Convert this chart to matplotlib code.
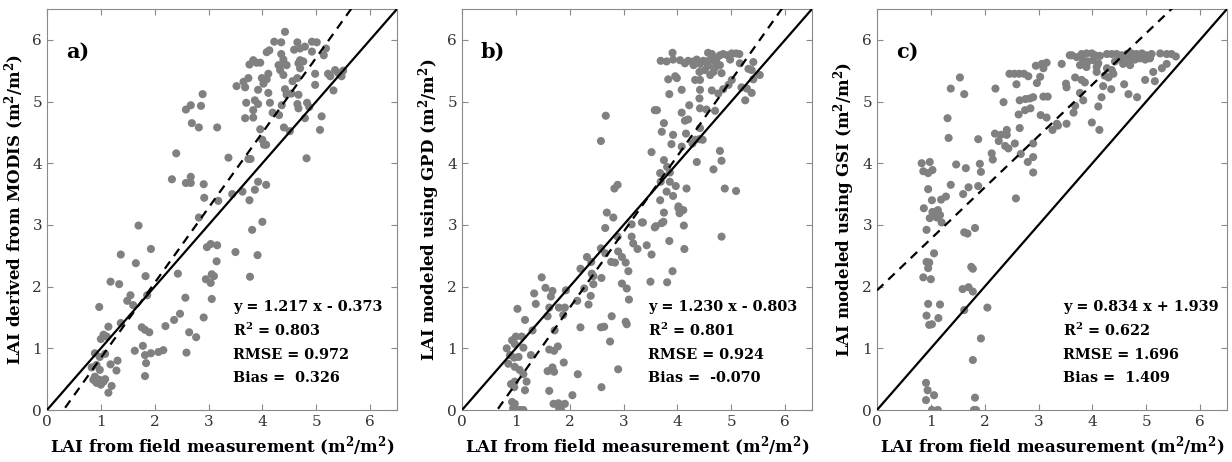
import numpy as np
import matplotlib
matplotlib.use('Agg')
import matplotlib.pyplot as plt

plt.rcParams['font.family'] = 'DejaVu Serif'
plt.rcParams['mathtext.fontset'] = 'dejavuserif'
plt.rcParams['mathtext.default'] = 'bf'

# ---- data (field LAI vs modelled LAI) ----
a_pts = [
    (3.52, 5.25), (2.89, 5.12), (2.58, 4.87), (2.67, 4.94), (2.86, 4.93), (2.69, 4.65), (2.82, 4.58),
    (3.16, 4.58), (2.40, 4.16), (3.37, 4.09), (2.32, 3.74), (2.58, 3.68), (2.67, 3.78), (2.67, 3.68),
    (2.91, 3.66), (2.92, 3.44), (3.18, 3.39), (3.44, 3.50), (2.82, 3.12), (1.70, 2.99), (3.50, 2.56),
    (2.97, 2.64), (3.04, 2.69), (3.16, 2.67), (1.37, 2.52), (1.93, 2.61), (1.65, 2.38), (3.15, 2.41),
    (1.18, 2.08), (1.34, 2.04), (1.83, 2.17), (2.43, 2.21), (2.95, 2.12), (3.04, 2.06), (3.06, 2.20),
    (3.10, 2.17), (3.06, 1.80), (1.55, 1.86), (1.49, 1.77), (1.60, 1.70), (2.57, 1.82), (1.86, 1.86),
    (0.97, 1.67), (2.91, 1.50), (2.47, 1.56), (2.36, 1.46), (2.20, 1.36), (1.37, 1.41), (1.14, 1.35),
    (1.76, 1.34), (1.82, 1.30), (1.90, 1.26), (2.64, 1.26), (2.77, 1.18), (1.05, 1.22), (1.00, 1.15),
    (1.11, 1.19), (1.78, 1.04), (1.63, 0.96), (1.82, 0.89), (1.93, 0.92), (2.07, 0.94), (2.16, 0.97),
    (2.59, 0.93), (0.89, 0.92), (0.98, 0.86), (1.08, 0.91), (1.31, 0.80), (1.18, 0.74), (1.84, 0.76),
    (1.29, 0.64), (0.83, 0.69), (0.92, 0.73), (0.98, 0.65), (1.82, 0.55), (0.89, 0.54), (0.97, 0.49),
    (1.05, 0.46), (0.92, 0.44), (1.00, 0.41), (1.08, 0.50), (0.86, 0.49), (1.20, 0.39), (1.14, 0.28),
    (4.42, 6.13), (4.22, 5.97), (4.35, 5.96), (4.65, 5.96), (4.79, 5.89), (4.92, 5.97), (5.01, 5.96),
    (5.18, 5.86), (4.13, 5.83), (4.08, 5.80), (4.59, 5.84), (4.70, 5.86), (4.92, 5.81), (5.14, 5.75),
    (4.35, 5.77), (4.39, 5.68), (3.83, 5.67), (3.76, 5.60), (3.89, 5.63), (3.96, 5.63), (4.70, 5.67),
    (4.67, 5.62), (4.76, 5.65), (4.30, 5.59), (4.39, 5.62), (4.45, 5.59), (4.33, 5.51), (4.39, 5.43),
    (4.70, 5.54), (4.11, 5.45), (4.08, 5.36), (3.99, 5.38), (4.02, 5.29), (3.74, 5.38), (3.65, 5.32),
    (3.68, 5.23), (4.98, 5.45), (5.22, 5.45), (5.35, 5.51), (5.41, 5.46), (5.50, 5.50), (5.47, 5.41),
    (5.26, 5.41), (4.56, 5.33), (4.65, 5.38), (3.92, 5.19), (4.11, 5.14), (4.42, 5.20), (4.45, 5.11),
    (4.54, 5.13), (4.67, 5.11), (4.98, 5.27), (5.32, 5.18), (3.86, 5.02), (3.70, 4.98), (3.92, 4.96),
    (4.14, 4.98), (4.36, 4.94), (4.65, 4.96), (4.67, 4.89), (4.83, 4.98), (4.87, 4.91), (3.83, 4.86),
    (3.83, 4.74), (3.68, 4.73), (4.19, 4.82), (4.31, 4.78), (5.10, 4.76), (4.79, 4.73), (4.40, 4.58),
    (4.51, 4.52), (3.96, 4.55), (5.07, 4.54), (4.00, 4.38), (4.03, 4.30), (4.07, 4.30), (3.74, 4.07),
    (3.78, 4.07), (4.82, 4.08), (3.92, 3.70), (4.07, 3.65), (3.86, 3.57), (3.63, 3.54), (3.76, 3.40),
    (4.00, 3.05), (3.81, 2.92), (3.91, 2.51), (3.77, 2.16),
]

b_pts = [
    (2.67, 4.77), (2.58, 4.36), (3.52, 4.18), (3.58, 4.86), (2.83, 3.59), (2.89, 3.65), (2.69, 3.20),
    (2.81, 3.12), (3.15, 3.01), (3.36, 3.04), (3.58, 2.96), (2.66, 2.95), (2.89, 2.81), (3.15, 2.81),
    (3.18, 2.70), (3.26, 2.61), (3.43, 2.67), (2.58, 2.62), (2.66, 2.54), (2.90, 2.57), (2.97, 2.48),
    (3.04, 2.39), (3.09, 2.25), (3.52, 2.52), (2.77, 2.40), (2.84, 2.39), (2.32, 2.48), (2.40, 2.40),
    (2.20, 2.29), (2.41, 2.21), (2.44, 2.17), (2.59, 2.14), (2.44, 2.04), (2.97, 2.05), (3.06, 1.97),
    (3.10, 1.79), (3.50, 2.08), (1.48, 2.15), (1.34, 1.89), (1.37, 1.72), (1.55, 1.98), (1.68, 1.93),
    (1.65, 1.84), (1.93, 1.94), (2.27, 1.97), (2.14, 1.77), (2.39, 1.85), (2.35, 1.71), (1.03, 1.64),
    (1.17, 1.46), (1.62, 1.66), (1.80, 1.66), (1.91, 1.66), (1.88, 1.54), (1.59, 1.52), (1.31, 1.29),
    (1.72, 1.29), (2.20, 1.34), (2.78, 1.52), (2.58, 1.34), (2.64, 1.35), (3.04, 1.43), (3.06, 1.39),
    (0.83, 1.00), (0.93, 1.13), (1.00, 1.19), (1.11, 1.19), (0.98, 1.07), (1.14, 1.01), (0.89, 0.89),
    (0.97, 0.85), (1.05, 0.86), (1.28, 0.89), (1.78, 1.03), (1.71, 0.96), (1.62, 0.98), (1.89, 0.77),
    (2.75, 1.11), (0.86, 0.75), (0.98, 0.70), (1.07, 0.65), (1.59, 0.63), (1.71, 0.62), (1.68, 0.69),
    (2.15, 0.58), (2.90, 0.66), (1.14, 0.58), (1.20, 0.46), (1.17, 0.32), (0.91, 0.42), (0.98, 0.46),
    (0.97, 0.37), (1.62, 0.31), (2.59, 0.37), (2.05, 0.24), (0.93, 0.13), (0.98, 0.10), (0.95, 0.03),
    (1.08, 0.00), (1.14, 0.00), (1.02, 0.00), (1.70, 0.10), (1.79, 0.11), (1.91, 0.10), (1.84, 0.00),
    (1.80, 0.04), (3.91, 5.79), (3.69, 5.66), (3.80, 5.65), (3.92, 5.68), (4.05, 5.67), (4.14, 5.62),
    (4.20, 5.66), (4.30, 5.65), (4.36, 5.68), (4.42, 5.61), (4.48, 5.66), (4.54, 5.65), (4.57, 5.79),
    (4.64, 5.77), (4.62, 5.68), (4.70, 5.65), (4.73, 5.70), (4.79, 5.75), (4.85, 5.77), (4.93, 5.75),
    (5.01, 5.78), (5.09, 5.78), (5.15, 5.77), (4.98, 5.68), (4.30, 5.59), (4.57, 5.58), (4.70, 5.55),
    (4.79, 5.59), (5.16, 5.62), (5.41, 5.64), (4.82, 5.46), (4.67, 5.48), (4.61, 5.43), (4.51, 5.51),
    (4.41, 5.48), (5.32, 5.53), (5.38, 5.51), (5.53, 5.43), (5.41, 5.36), (3.83, 5.36), (3.96, 5.41),
    (3.99, 5.38), (4.33, 5.35), (4.42, 5.35), (5.01, 5.35), (4.95, 5.27), (4.85, 5.20), (4.64, 5.18),
    (5.19, 5.23), (5.29, 5.21), (5.38, 5.14), (5.26, 5.02), (4.08, 5.19), (4.42, 5.19), (3.85, 5.12),
    (4.41, 5.05), (4.76, 5.13), (3.62, 4.86), (4.22, 4.94), (4.08, 4.82), (4.42, 4.89), (4.54, 4.87),
    (4.70, 4.85), (4.14, 4.69), (4.20, 4.71), (3.75, 4.65), (3.71, 4.51), (3.92, 4.46), (4.16, 4.48),
    (4.42, 4.57), (4.33, 4.38), (4.41, 4.39), (4.47, 4.38), (4.28, 4.32), (4.08, 4.27), (3.89, 4.31),
    (4.79, 4.20), (4.82, 4.04), (4.67, 3.90), (4.36, 4.02), (3.75, 4.05), (3.81, 3.94), (3.68, 3.84),
    (3.86, 3.85), (3.69, 3.70), (3.86, 3.70), (3.97, 3.63), (4.17, 3.59), (4.88, 3.59), (5.09, 3.55),
    (3.80, 3.54), (3.92, 3.47), (3.68, 3.40), (3.75, 3.20), (4.02, 3.27), (4.11, 3.24), (4.04, 3.19),
    (3.34, 3.04), (3.60, 2.98), (3.74, 3.05), (4.12, 2.99), (3.71, 3.03), (4.02, 3.30), (4.82, 2.81),
    (3.85, 2.74), (4.13, 2.61), (3.91, 2.25), (3.81, 2.07),
]

c_pts = [
    (3.58, 5.75), (2.95, 5.58), (3.06, 5.61), (3.15, 5.63), (3.09, 5.54), (3.43, 5.61), (3.03, 5.40),
    (2.97, 5.30), (2.46, 5.45), (2.55, 5.45), (2.64, 5.45), (2.73, 5.45), (2.81, 5.41), (2.59, 5.28),
    (1.54, 5.39), (1.37, 5.21), (1.62, 5.12), (2.20, 5.21), (2.35, 4.99), (2.65, 5.02), (2.76, 5.04),
    (2.84, 5.05), (2.90, 5.07), (3.09, 5.08), (3.17, 5.08), (3.52, 5.23), (2.63, 4.79), (2.75, 4.86),
    (2.85, 4.89), (3.04, 4.78), (3.15, 4.74), (3.36, 4.61), (3.52, 4.64), (3.26, 4.54), (1.31, 4.73),
    (1.33, 4.41), (1.88, 4.39), (2.65, 4.57), (2.19, 4.48), (2.30, 4.46), (2.41, 4.54), (2.41, 4.46),
    (2.26, 4.36), (2.38, 4.28), (2.44, 4.24), (2.56, 4.32), (2.90, 4.32), (2.13, 4.16), (2.15, 4.06),
    (2.67, 4.15), (2.80, 4.02), (2.90, 4.10), (2.90, 3.85), (0.83, 4.00), (0.98, 4.02), (0.86, 3.87),
    (0.95, 3.84), (1.03, 3.89), (1.47, 3.98), (1.65, 3.92), (1.91, 3.99), (1.93, 3.86), (0.95, 3.58),
    (1.37, 3.65), (1.70, 3.61), (1.88, 3.63), (1.60, 3.50), (1.02, 3.40), (1.19, 3.41), (1.28, 3.46),
    (0.87, 3.27), (1.03, 3.21), (1.13, 3.24), (0.98, 3.11), (1.11, 3.12), (1.20, 3.04), (2.58, 3.43),
    (0.92, 2.92), (1.82, 2.95), (1.05, 3.19), (1.17, 3.16), (1.62, 2.88), (1.68, 2.86), (1.06, 2.54),
    (0.92, 2.40), (0.97, 2.39), (0.95, 2.30), (0.86, 2.15), (1.00, 2.12), (1.75, 2.32), (1.78, 2.29),
    (1.59, 1.96), (1.70, 1.99), (1.78, 1.92), (0.95, 1.72), (1.17, 1.71), (1.62, 1.62), (2.05, 1.66),
    (0.92, 1.53), (1.14, 1.49), (1.02, 1.39), (0.97, 1.38), (1.93, 1.16), (1.78, 0.81), (0.91, 0.44),
    (0.94, 0.32), (1.06, 0.24), (0.91, 0.16), (1.82, 0.20), (1.02, 0.00), (1.13, 0.00), (1.80, 0.00),
    (1.84, 0.00), (3.62, 5.75), (3.71, 5.72), (3.80, 5.77), (3.89, 5.78), (3.99, 5.78), (4.05, 5.75),
    (4.14, 5.74), (3.83, 5.67), (3.92, 5.65), (4.02, 5.67), (4.11, 5.62), (3.77, 5.59), (3.89, 5.56),
    (4.08, 5.56), (4.27, 5.77), (4.36, 5.77), (4.45, 5.77), (4.54, 5.75), (4.64, 5.77), (4.73, 5.78),
    (4.82, 5.77), (4.92, 5.78), (5.01, 5.75), (5.10, 5.77), (5.26, 5.78), (5.38, 5.77), (5.47, 5.77),
    (5.55, 5.73), (4.51, 5.70), (4.61, 5.68), (4.70, 5.67), (4.79, 5.68), (4.88, 5.70), (4.98, 5.68),
    (5.07, 5.70), (4.42, 5.65), (4.57, 5.61), (4.70, 5.59), (5.38, 5.61), (5.29, 5.54), (5.13, 5.48),
    (4.27, 5.54), (4.36, 5.51), (4.08, 5.48), (4.39, 5.45), (4.23, 5.42), (4.30, 5.39), (3.68, 5.39),
    (3.80, 5.35), (4.98, 5.35), (5.16, 5.33), (3.51, 5.29), (3.86, 5.31), (4.20, 5.25), (4.35, 5.20),
    (4.59, 5.28), (4.67, 5.12), (4.83, 5.07), (3.77, 5.14), (3.83, 5.02), (3.68, 4.93), (3.65, 4.82),
    (4.17, 5.07), (4.11, 4.92), (3.34, 4.64), (3.99, 4.66), (4.13, 4.54),
]

panel_tags = ['a)', 'b)', 'c)']
y_labels = ['LAI derived from MODIS (m$^2$/m$^2$)',
            'LAI modeled using GPD (m$^2$/m$^2$)',
            'LAI modeled using GSI (m$^2$/m$^2$)']
slopes = [1.217, 1.230, 0.834]
intercepts = [-0.373, -0.803, 1.939]
r2 = [0.803, 0.801, 0.622]
rmse = [0.972, 0.924, 1.696]
bias = [0.326, -0.070, 1.409]

fig = plt.figure(figsize=(12.32, 4.62), dpi=100)
lefts = [47 / 1232, 462 / 1232, 877 / 1232]
axw, axh = 350 / 1232, 401 / 462
axb = 52 / 462

grey = '#808080'
for i, pts in enumerate([a_pts, b_pts, c_pts]):
    ax = fig.add_axes([lefts[i], axb, axw, axh])
    pts = np.array(pts)
    ax.scatter(pts[:, 0], pts[:, 1], s=34, color=grey, edgecolors='none', zorder=2)

    xx = np.array([0, 6.5])
    ax.plot(xx, xx, color='black', lw=1.6, zorder=3)
    ax.plot(xx, slopes[i] * xx + intercepts[i], color='black', lw=1.6, ls=(0, (4, 3)), zorder=3)

    ax.set_xlim(0, 6.5)
    ax.set_ylim(0, 6.5)
    ax.set_xticks(range(7))
    ax.set_yticks(range(7))
    ax.tick_params(direction='in', top=True, right=True, length=4, width=0.8,
                   color='#8a8a8a', labelcolor='#333333', labelsize=11)
    for sp in ax.spines.values():
        sp.set_color('#8a8a8a')
        sp.set_linewidth(0.8)

    ax.set_xlabel('LAI from field measurement (m$^2$/m$^2$)', fontsize=12, fontweight='bold')
    ax.set_ylabel(y_labels[i], fontsize=12, fontweight='bold')

    ax.text(0.35, 5.81, panel_tags[i], fontsize=15, fontweight='bold', va='center', ha='left')

    sign = '-' if intercepts[i] < 0 else '+'
    lines = ['y = %.3f x %s %.3f' % (slopes[i], sign, abs(intercepts[i])),
             'R$^2$ = %.3f' % r2[i],
             'RMSE = %.3f' % rmse[i],
             'Bias =  %.3f' % bias[i]]
    for k, s in enumerate(lines):
        ax.text(3.45, [1.67, 1.29, 0.89, 0.52][k], s, fontsize=10.4, fontweight='bold',
                va='center', ha='left')

fig.savefig('out.png', dpi=100)
